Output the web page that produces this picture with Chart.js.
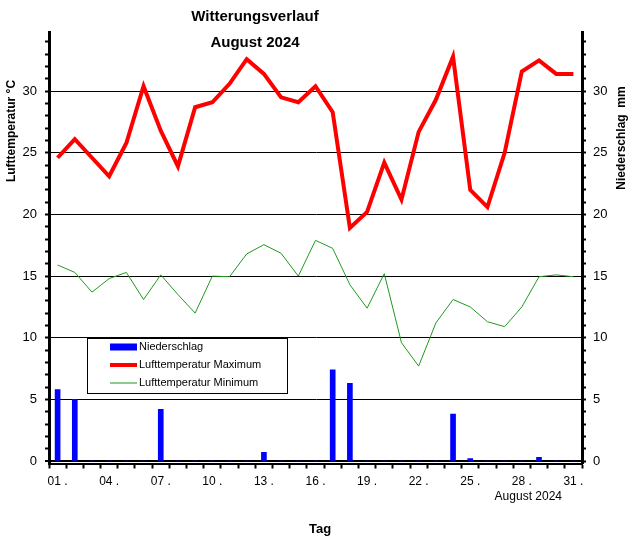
<!DOCTYPE html>
<html><head><meta charset="utf-8">
<script src="https://cdn.jsdelivr.net/npm/chart.js@4.4.1/dist/chart.umd.min.js"></script>
<style>html,body{margin:0;padding:0;background:#fff}canvas{display:block}</style>
</head><body>
<canvas id="c" width="634" height="546"></canvas>
<script>
// ---- data ----
const days = ['01','02','03','04','05','06','07','08','09','10','11','12','13','14','15','16','17','18','19','20','21','22','23','24','25','26','27','28','29','30','31'];
const precipitation = [5.8,5.0,0,0,0,0,4.2,0,0,0,0,0,0.7,0,0,0,7.4,6.3,0,0,0,0,0,3.8,0.2,0,0,0,0.3,0,0];
const tempMax = [24.6,26.1,24.6,23.1,25.8,30.4,26.8,23.9,28.7,29.1,30.6,32.6,31.4,29.5,29.1,30.4,28.3,18.9,20.2,24.2,21.2,26.7,29.3,32.8,22.0,20.6,25.0,31.6,32.5,31.4,31.4];
const tempMin = [15.9,15.3,13.7,14.8,15.3,13.1,15.1,13.5,12.0,15.0,14.95,16.8,17.55,16.85,15.0,17.9,17.25,14.3,12.4,15.2,9.6,7.7,11.2,13.1,12.5,11.3,10.9,12.5,14.95,15.1,14.95];
const labeledDays = ['01','04','07','10','13','16','19','22','25','28','31'];
const yTickLabels = [0,5,10,15,20,25,30];
const seriesNames = ['Niederschlag','Lufttemperatur Maximum','Lufttemperatur Minimum'];
const titleLines = ['Witterungsverlauf','August 2024'];
const monthLabel = 'August 2024';
const xTitle = 'Tag';
const yLeftTitle = 'Lufttemperatur °C';
const yRightTitle = 'Niederschlag  mm';
const yMin = -0.2;
const yMax = 34.8;
const yMinorTop = 34;

const FONT = '"Liberation Sans", Arial, sans-serif';
Chart.defaults.font.family = FONT;
Chart.defaults.color = '#000';

const gridColor = (c) => (c.tick && c.tick.value % 5 === 0) ? '#000' : 'rgba(0,0,0,0)';
const gridWidth = (c) => (c.tick && c.tick.value === 0) ? 2 : 1;
const unitTicks = (s) => { const t = []; for (let v = 0; v <= yMinorTop; v++) t.push({ value: v }); s.ticks = t; };
const yLabel = (v) => yTickLabels.includes(v) ? String(v) : '';

const decor = {
  id: 'decor',
  afterDraw(chart) {
    const ctx = chart.ctx;
    ctx.save();
    ctx.fillStyle = '#000';
    ctx.textBaseline = 'middle';
    ctx.font = 'bold 15px ' + FONT;
    ctx.textAlign = 'center';
    ctx.fillText(titleLines[0], 255, 17);
    ctx.fillText(titleLines[1], 255, 43);
    ctx.font = 'bold 12px ' + FONT;
    ctx.save(); ctx.translate(12, 131); ctx.rotate(-Math.PI/2); ctx.fillText(yLeftTitle, 0, 0); ctx.restore();
    ctx.save(); ctx.translate(622, 138); ctx.rotate(-Math.PI/2); ctx.fillText(yRightTitle, 0, 0); ctx.restore();
    ctx.font = 'bold 13px ' + FONT;
    ctx.fillText(xTitle, 320, 529);
    ctx.font = '12px ' + FONT;
    ctx.textAlign = 'right';
    ctx.fillText(monthLabel, 562, 497);
    // legend
    const lx = 87.5, ly = 338.5, lw = 200, lh = 55;
    ctx.fillStyle = '#fff';
    ctx.fillRect(lx, ly, lw, lh);
    ctx.strokeStyle = '#000'; ctx.lineWidth = 1;
    ctx.strokeRect(lx, ly, lw, lh);
    ctx.font = '11px ' + FONT;
    ctx.textAlign = 'left';
    [0,1,2].forEach((i, k) => {
      const ds = chart.data.datasets[i];
      const yy = 347 + k * 18;
      ctx.strokeStyle = ds.type === 'line' ? ds.borderColor : ds.backgroundColor;
      ctx.lineWidth = ds.type === 'line' ? ds.borderWidth : 7;
      ctx.beginPath(); ctx.moveTo(110, yy); ctx.lineTo(137, yy); ctx.stroke();
      ctx.fillStyle = '#000';
      ctx.fillText(ds.label, 139, yy);
    });
    ctx.restore();
  }
};

new Chart(document.getElementById('c'), {
  type: 'bar',
  data: {
    labels: days,
    datasets: [
      { type: 'bar', label: seriesNames[0], data: precipitation, yAxisID: 'y2', backgroundColor: '#0000ff', barThickness: 5, order: 3 },
      { type: 'line', label: seriesNames[1], data: tempMax, yAxisID: 'y', borderColor: '#ff0000', borderWidth: 4, pointRadius: 0, tension: 0, order: 1 },
      { type: 'line', label: seriesNames[2], data: tempMin, yAxisID: 'y', borderColor: '#1f9a1f', borderWidth: 1, pointRadius: 0, tension: 0, order: 2 }
    ]
  },
  options: {
    responsive: false,
    animation: false,
    devicePixelRatio: 1,
    layout: { padding: { top: 32, left: 0, right: 0, bottom: 0 } },
    plugins: { legend: { display: false }, tooltip: { enabled: false }, title: { display: false } },
    scales: {
      x: {
        type: 'category',
        offset: true,
        grid: { offset: true, drawOnChartArea: false, drawTicks: true, tickLength: 5, tickWidth: 2, color: '#000', tickColor: '#000' },
        border: { display: true, color: '#000', width: 2 },
        ticks: {
          autoSkip: false, maxRotation: 0, minRotation: 0, padding: 6,
          font: { size: 12 }, color: '#000',
          callback: function(v) { const l = this.getLabelForValue(v); return labeledDays.includes(l) ? l + ' .' : ''; }
        },
        afterFit: (s) => { s.height = 82.5; }
      },
      y: {
        position: 'left', min: yMin, max: yMax,
        ticks: { autoSkip: false, padding: 8, font: { size: 13 }, color: '#000', callback: yLabel },
        afterBuildTicks: unitTicks,
        grid: { color: gridColor, lineWidth: gridWidth, drawTicks: true, tickLength: 4, tickWidth: 2, tickColor: '#000' },
        border: { display: true, color: '#000', width: 3 },
        afterFit: (s) => { s.width = 49; }
      },
      y2: {
        position: 'right', min: yMin, max: yMax,
        ticks: { autoSkip: false, padding: 7, font: { size: 13 }, color: '#000', callback: yLabel },
        afterBuildTicks: unitTicks,
        grid: { drawOnChartArea: false, drawTicks: true, tickLength: 4, tickWidth: 2, tickColor: '#000', color: '#000' },
        border: { display: true, color: '#000', width: 3 },
        afterFit: (s) => { s.width = 52; }
      }
    }
  },
  plugins: [decor]
});
</script>
</body></html>
